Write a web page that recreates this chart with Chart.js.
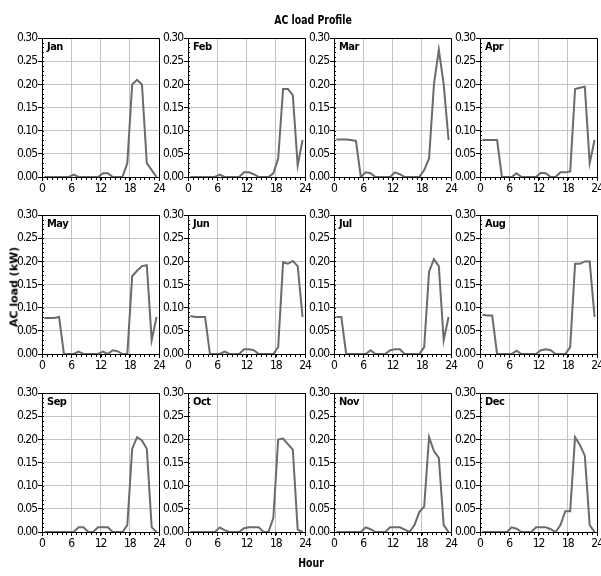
<!DOCTYPE html>
<html>
<head>
<meta charset="utf-8">
<script src="https://cdn.jsdelivr.net/npm/chart.js@4.4.1/dist/chart.umd.min.js"></script>
<style>
    body { margin: 0; background: #fff; }
    #page { position: relative; width: 601px; height: 576px; overflow: hidden; background: #fff; }
    .panel { position: absolute; }
    .label { position: absolute; font-family: 'DejaVu Sans Condensed', sans-serif; font-weight: bold; color: #000; white-space: nowrap; z-index: 2; }
    #title { left: 313px; top: 12px; font-size: 13px; transform: translateX(-50%) scaleX(0.8); }
    #xTitle { left: 311px; top: 555px; font-size: 13px; transform: translateX(-50%) scaleX(0.8); }
    #yTitle { left: 14px; top: 287px; font-family: 'DejaVu Sans', sans-serif; font-size: 11px; transform: translate(-50%, -50%) rotate(-90deg); }
</style>
</head>
<body>
<div id="page">
    <div id="title" class="label">AC load Profile</div>
    <div id="xTitle" class="label">Hour</div>
    <div id="yTitle" class="label">AC load (kW)</div>
</div>
<script>
// Hour positions (hourly averages plotted at mid-hour)
const hours = [0.5, 1.5, 2.5, 3.5, 4.5, 5.5, 6.5, 7.5, 8.5, 9.5, 10.5, 11.5,
               12.5, 13.5, 14.5, 15.5, 16.5, 17.5, 18.5, 19.5, 20.5, 21.5, 22.5, 23.5];

const months = ['Jan', 'Feb', 'Mar', 'Apr', 'May', 'Jun', 'Jul', 'Aug', 'Sep', 'Oct', 'Nov', 'Dec'];

// AC load (kW) per hour
const janLoad = [0, 0, 0, 0, 0, 0, 0.005, 0, 0, 0, 0, 0, 0.008, 0.008, 0, 0, 0, 0.03, 0.2, 0.21, 0.2, 0.03, 0.015, 0];
const febLoad = [0, 0, 0, 0, 0, 0, 0.005, 0, 0, 0, 0, 0.01, 0.01, 0.006, 0, 0, 0, 0.008, 0.04, 0.19, 0.19, 0.177, 0.025, 0.08];
const marLoad = [0.081, 0.081, 0.081, 0.08, 0.078, 0, 0.01, 0.008, 0, 0, 0, 0, 0.01, 0.006, 0, 0, 0, 0, 0.015, 0.04, 0.2, 0.275, 0.2, 0.08];
const aprLoad = [0.08, 0.08, 0.08, 0.08, 0, 0, 0, 0.008, 0, 0, 0, 0, 0.009, 0.008, 0, 0, 0.01, 0.01, 0.012, 0.19, 0.193, 0.195, 0.03, 0.08];
const mayLoad = [0.078, 0.078, 0.078, 0.08, 0, 0, 0, 0.005, 0, 0, 0, 0, 0.005, 0, 0.008, 0.006, 0, 0, 0.168, 0.18, 0.19, 0.192, 0.03, 0.08];
const junLoad = [0.082, 0.08, 0.08, 0.08, 0, 0, 0, 0.005, 0, 0, 0, 0.01, 0.01, 0.008, 0, 0, 0, 0, 0.015, 0.198, 0.195, 0.201, 0.19, 0.08];
const julLoad = [0.08, 0.08, 0, 0, 0, 0, 0, 0.008, 0, 0, 0, 0.008, 0.01, 0.01, 0, 0, 0, 0, 0.015, 0.178, 0.205, 0.19, 0.03, 0.08];
const augLoad = [0.085, 0.083, 0.083, 0, 0, 0, 0, 0.007, 0, 0, 0, 0, 0.008, 0.01, 0.008, 0, 0, 0, 0.015, 0.195, 0.195, 0.2, 0.2, 0.08];
const sepLoad = [0, 0, 0, 0, 0, 0, 0, 0.01, 0.01, 0, 0, 0.01, 0.01, 0.01, 0, 0, 0, 0.015, 0.18, 0.205, 0.198, 0.18, 0.01, 0];
const octLoad = [0, 0, 0, 0, 0, 0, 0.01, 0.004, 0, 0, 0, 0.008, 0.01, 0.01, 0.01, 0, 0, 0.03, 0.2, 0.202, 0.19, 0.178, 0.005, 0];
const novLoad = [0, 0, 0, 0, 0, 0, 0.01, 0.006, 0, 0, 0, 0.01, 0.01, 0.01, 0.005, 0, 0.015, 0.043, 0.055, 0.205, 0.175, 0.16, 0.015, 0];
const decLoad = [0, 0, 0, 0, 0, 0, 0.01, 0.007, 0, 0, 0, 0.01, 0.01, 0.01, 0.006, 0, 0.015, 0.045, 0.045, 0.205, 0.188, 0.165, 0.015, 0];

const monthLoads = [janLoad, febLoad, marLoad, aprLoad, mayLoad, junLoad,
                    julLoad, augLoad, sepLoad, octLoad, novLoad, decLoad];

const yTicks = [0, 0.05, 0.1, 0.15, 0.2, 0.25, 0.3];
const xTicks = [0, 6, 12, 18, 24];

const FONT = "'DejaVu Sans Condensed', sans-serif";

// narrow the canvas text a bit (original uses a narrow font)
const tightText = {
    id: 'tightText',
    beforeLayout(chart) { chart.ctx.letterSpacing = '-1px'; },
    beforeDraw(chart) { chart.ctx.letterSpacing = '-1px'; }
};

// small ticks along left and bottom axes
const minorTicks = {
    id: 'minorTicks',
    afterDraw(chart) {
        const ctx = chart.ctx;
        const area = chart.chartArea;
        const x = chart.scales.x, y = chart.scales.y;
        ctx.save();
        ctx.strokeStyle = '#000';
        ctx.lineWidth = 1;
        ctx.beginPath();
        for (let v = 0; v <= 30; v++) {
            const py = Math.round(y.getPixelForValue(v / 100)) + 0.5;
            ctx.moveTo(area.left, py);
            ctx.lineTo(area.left + 2, py);
        }
        for (let h = 0; h <= 24; h++) {
            const px = Math.round(x.getPixelForValue(h)) + 0.5;
            ctx.moveTo(px, area.bottom);
            ctx.lineTo(px, area.bottom + 3);
        }
        ctx.stroke();
        ctx.restore();
    }
};

// month name in the top-left corner of the plot
const monthLabel = {
    id: 'monthLabel',
    afterDraw(chart, args, opts) {
        const ctx = chart.ctx;
        ctx.save();
        ctx.letterSpacing = '-0.5px';
        ctx.font = 'bold 11px ' + FONT;
        ctx.fillStyle = '#000';
        ctx.textBaseline = 'top';
        ctx.fillText(opts.text, chart.chartArea.left + 5, chart.chartArea.top + 3);
        ctx.restore();
    }
};

function makePanel(i) {
    const row = Math.floor(i / 4), col = i % 4;
    const plotLeft = 42 + 146 * col;
    const plotTop = [38, 215, 393][row];
    const canvas = document.createElement('canvas');
    canvas.className = 'panel';
    canvas.width = 167;
    canvas.height = 171;
    canvas.style.left = (plotLeft - 40) + 'px';
    canvas.style.top = (plotTop - 8) + 'px';
    document.getElementById('page').appendChild(canvas);

    new Chart(canvas.getContext('2d'), {
        type: 'line',
        data: {
            datasets: [{
                data: hours.map((h, k) => ({ x: h, y: monthLoads[i][k] })),
                borderColor: '#6b6b6b',
                borderWidth: 2,
                pointRadius: 0,
                tension: 0,
                fill: false
            }]
        },
        options: {
            responsive: false,
            animation: false,
            layout: { padding: { top: 8, right: 10, left: 0, bottom: 0 } },
            plugins: {
                legend: { display: false },
                tooltip: { enabled: false },
                monthLabel: { text: months[i] }
            },
            scales: {
                x: {
                    type: 'linear',
                    min: 0,
                    max: 24,
                    afterFit: s => { s.height = 24; },
                    afterBuildTicks: s => { s.ticks = xTicks.map(v => ({ value: v })); },
                    ticks: {
                        color: '#000',
                        padding: 1,
                        maxRotation: 0,
                        font: { family: FONT, size: 12 }
                    },
                    grid: {
                        color: c => c.tick && c.tick.value === 24 ? '#000' : '#c4c4c4',
                        tickColor: '#000',
                        tickLength: 4
                    },
                    border: { color: '#000', width: 1 }
                },
                y: {
                    min: 0,
                    max: 0.3,
                    afterFit: s => { s.width = 40; },
                    afterBuildTicks: s => { s.ticks = yTicks.map(v => ({ value: v })); },
                    ticks: {
                        color: '#000',
                        padding: 1,
                        callback: v => v.toFixed(2),
                        font: { family: FONT, size: 12 }
                    },
                    grid: {
                        color: c => c.tick && c.tick.value >= 0.299 ? '#000' : '#c4c4c4',
                        tickColor: '#000',
                        tickLength: 4
                    },
                    border: { color: '#000', width: 1 }
                }
            }
        },
        plugins: [tightText, minorTicks, monthLabel]
    });
}

for (let i = 0; i < 12; i++) {
    makePanel(i);
}
</script>
</body>
</html>
